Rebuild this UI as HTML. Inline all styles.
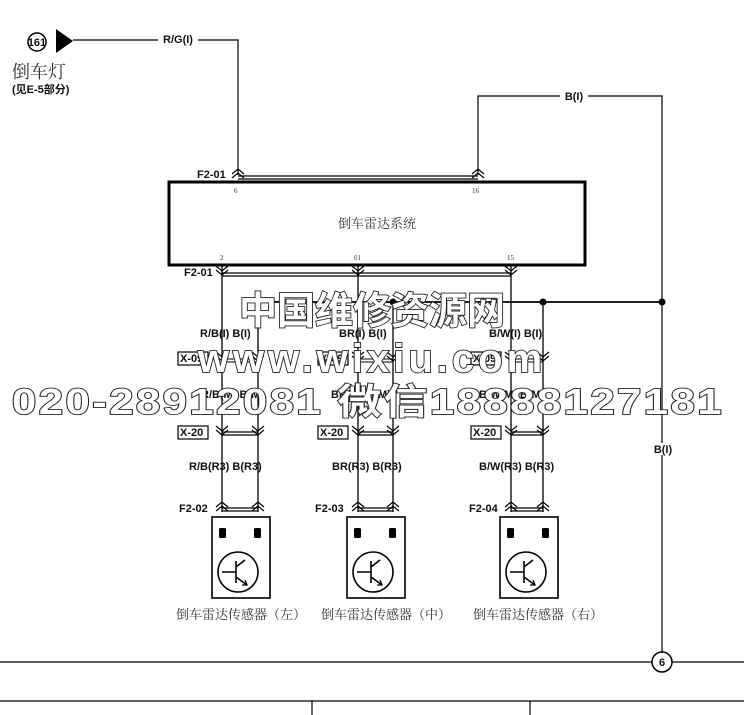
<!DOCTYPE html>
<html><head><meta charset="utf-8"><style>
html,body{margin:0;padding:0;background:#fff;width:744px;height:715px;overflow:hidden}
svg{display:block}
.l{font-family:"Liberation Sans",sans-serif;font-weight:bold;font-size:11px;fill:#111}
.c{font-family:"Liberation Serif","Noto Serif CJK SC",serif;fill:#333}
.wm{font-family:"Liberation Sans","Noto Sans CJK SC",sans-serif;font-weight:bold;fill:#fff;stroke:#222;stroke-width:1.8;paint-order:stroke}
</style></head><body>
<svg width="744" height="715" viewBox="0 0 744 715" xmlns="http://www.w3.org/2000/svg">
<defs>
<g id="up"><path d="M-6,4 L0,-1 L6,4 M-6,8 L0,3 L6,8" fill="none" stroke="#000" stroke-width="1.2"/></g>
<g id="dn"><path d="M-6,-4 L0,1 L6,-4 M-6,0 L0,5 L6,0" fill="none" stroke="#000" stroke-width="1.2"/></g>
<g id="sens">
<rect x="0" y="0" width="58" height="81" fill="#fff" stroke="#000" stroke-width="1.6"/>
<rect x="7" y="11" width="7" height="10" rx="1.5" fill="#000"/>
<rect x="42" y="11" width="7" height="10" rx="1.5" fill="#000"/>
<circle cx="26" cy="55" r="20" fill="none" stroke="#000" stroke-width="1.6"/>
<path d="M10,55 H24 M24,44 V66 M24,50 L33,43 M24,60 L35,68" fill="none" stroke="#000" stroke-width="1.6"/>
<path d="M30,68 L35,68 L33,63" fill="none" stroke="#000" stroke-width="1.3"/>
</g>
</defs>
<g stroke="#000" fill="none">
<circle cx="37" cy="42" r="9" stroke-width="1.5"/>
<path d="M73,40 H238 V175" stroke-width="1.2"/>
<path d="M478,175 V96 H662 V653" stroke-width="1.2"/>
<path d="M238,176 H478 M238,179 H478" stroke-width="1.2"/>
<rect x="169" y="182" width="416" height="83" stroke-width="3"/>
<path d="M222,273 H511 M222,276 H511" stroke-width="1.2"/>
<path d="M222,266 V512 M258,300 V512 M358,266 V512 M393,300 V512 M511,266 V512 M543,300 V512" stroke-width="1.3"/>
<path d="M258,302 H662" stroke-width="1.8"/>
<path d="M222,359 H258 M222,362 H258 M358,359 H393 M358,362 H393 M511,359 H543 M511,362 H543" stroke-width="1"/>
<path d="M222,432 H258 M222,435 H258 M358,432 H393 M358,435 H393 M511,432 H543 M511,435 H543" stroke-width="1.2"/>
<path d="M222,508 H258 M222,511 H258 M358,508 H393 M358,511 H393 M511,508 H543 M511,511 H543" stroke-width="1.2"/>
<path d="M0,662 H652 M672,662 H744" stroke-width="1.2"/>
<circle cx="662" cy="662" r="10" stroke-width="1.5"/>
<path d="M0,701 H744 M312,701 V715 M530,701 V715" stroke-width="1.2"/>
</g>
<circle cx="393" cy="302" r="3.5" fill="#000"/>
<circle cx="543" cy="302" r="3.5" fill="#000"/>
<circle cx="662" cy="302" r="3.5" fill="#000"/>
<polygon points="56,29 56,53 73,41" fill="#000"/>
<text x="37" y="46" text-anchor="middle" class="l" font-size="10">161</text>
<text x="662" y="666" text-anchor="middle" class="l">6</text>
<rect x="158" y="33" width="40" height="12" fill="#fff"/>
<text x="178" y="43" text-anchor="middle" class="l">R/G(I)</text>
<rect x="560" y="90" width="28" height="12" fill="#fff"/>
<text x="574" y="100" text-anchor="middle" class="l">B(I)</text>
<rect x="652" y="443" width="22" height="12" fill="#fff"/>
<text x="663" y="453" text-anchor="middle" class="l">B(I)</text>
<text x="12" y="78" class="c" font-size="18">倒车灯</text>
<text x="12" y="93" class="l" style="font-family:'Liberation Sans','Noto Sans CJK SC',sans-serif" font-size="10">(见E-5部分)</text>
<use href="#up" x="238" y="170"/><use href="#up" x="478" y="170"/>
<use href="#dn" x="222" y="270"/><use href="#dn" x="358" y="270"/><use href="#dn" x="511" y="270"/>
<g>
<use href="#dn" x="222" y="356"/><use href="#dn" x="258" y="356"/><use href="#dn" x="358" y="356"/><use href="#dn" x="393" y="356"/><use href="#dn" x="511" y="356"/><use href="#dn" x="543" y="356"/>
<use href="#dn" x="222" y="430"/><use href="#dn" x="258" y="430"/><use href="#dn" x="358" y="430"/><use href="#dn" x="393" y="430"/><use href="#dn" x="511" y="430"/><use href="#dn" x="543" y="430"/>
<use href="#up" x="222" y="503"/><use href="#up" x="258" y="503"/><use href="#up" x="358" y="503"/><use href="#up" x="393" y="503"/><use href="#up" x="511" y="503"/><use href="#up" x="543" y="503"/>
</g>
<text x="197" y="178" class="l">F2-01</text>
<text x="184" y="276" class="l">F2-01</text>
<text x="234" y="193" class="c" font-size="7">6</text>
<text x="472" y="193" class="c" font-size="7">16</text>
<text x="220" y="260" class="c" font-size="7">2</text>
<text x="354" y="260" class="c" font-size="7">01</text>
<text x="507" y="260" class="c" font-size="7">15</text>
<text x="377" y="228" text-anchor="middle" class="c" font-size="13">倒车雷达系统</text>
<text x="200" y="337" class="l">R/B(I)  B(I)</text>
<text x="339" y="337" class="l">BR(I)  B(I)</text>
<text x="489" y="337" class="l">B/W(I)  B(I)</text>
<text x="201" y="398" class="l">R/B(M)  B(M)</text>
<text x="331" y="398" class="l">BR(M) B(M)</text>
<text x="479" y="398" class="l">B/W(M) B(M)</text>
<text x="189" y="470" class="l">R/B(R3)  B(R3)</text>
<text x="332" y="470" class="l">BR(R3)  B(R3)</text>
<text x="479" y="470" class="l">B/W(R3)  B(R3)</text>
<g fill="#fff" stroke="#000" stroke-width="1.2">
<rect x="178" y="352" width="30" height="13"/><rect x="318" y="352" width="30" height="13"/><rect x="471" y="352" width="30" height="13"/>
<rect x="178" y="426" width="30" height="13"/><rect x="318" y="426" width="30" height="13"/><rect x="471" y="426" width="30" height="13"/>
</g>
<g class="l" font-size="10">
<text x="180" y="362">X-09</text><text x="320" y="362">X-09</text><text x="473" y="362">X-09</text>
<text x="180" y="436">X-20</text><text x="320" y="436">X-20</text><text x="473" y="436">X-20</text>
</g>
<text x="179" y="512" class="l">F2-02</text>
<text x="315" y="512" class="l">F2-03</text>
<text x="469" y="512" class="l">F2-04</text>
<use href="#sens" x="212" y="517"/>
<use href="#sens" x="347" y="517"/>
<use href="#sens" x="500" y="517"/>
<g class="c" font-size="13">
<text x="176" y="619">倒车雷达传感器（左）</text>
<text x="321" y="619">倒车雷达传感器（中）</text>
<text x="473" y="619">倒车雷达传感器（右）</text>
</g>
<text x="372" y="324" text-anchor="middle" class="wm" font-size="38">中国维修资源网</text>
<text x="372" y="372" text-anchor="middle" class="wm" font-size="40" letter-spacing="4">www.wixiu.com</text>
<text x="368" y="414" text-anchor="middle" class="wm" font-size="36" letter-spacing="2" textLength="712" lengthAdjust="spacingAndGlyphs">020-28912081 微信18888127181</text>
</svg>
</body></html>
